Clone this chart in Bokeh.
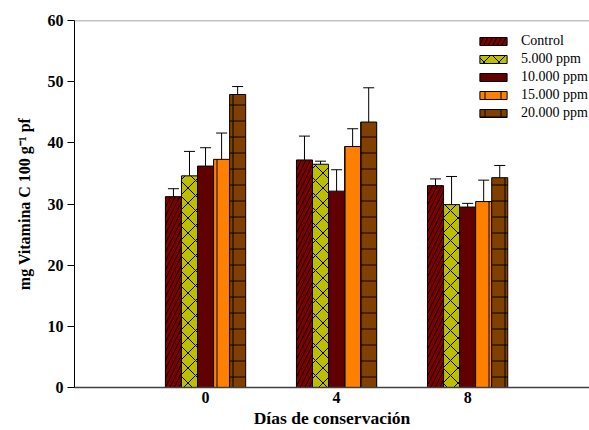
from bokeh.plotting import figure
from bokeh.models import (ColumnDataSource, Whisker, TeeHead, FixedTicker, Legend,
                          LegendItem, Span, Range1d)
from bokeh.embed import file_html
from bokeh.resources import INLINE

days = [0, 4, 8]
series = ["Control", "5.000 ppm", "10.000 ppm", "15.000 ppm", "20.000 ppm"]
means = {
    "Control":    [31.2, 37.2, 33.0],
    "5.000 ppm":  [34.6, 36.5, 29.9],
    "10.000 ppm": [36.2, 32.1, 29.5],
    "15.000 ppm": [37.3, 39.4, 30.4],
    "20.000 ppm": [47.9, 43.4, 34.3],
}
errors = {
    "Control":    [1.3, 3.9, 1.1],
    "5.000 ppm":  [4.0, 0.5, 4.6],
    "10.000 ppm": [3.0, 3.5, 0.6],
    "15.000 ppm": [4.3, 2.9, 3.5],
    "20.000 ppm": [1.3, 5.6, 2.0],
}
colors = ["#800000", "#BEBE00", "#600000", "#FF8000", "#804000"]
hatches = ["/", "x", " ", "|", "+"]
hscales = [9, 15, 8, 16, 16]

FONT = "'Liberation Serif'"

p = figure(width=589, height=430, output_backend="svg", toolbar_location=None,
           x_range=Range1d(-4, 11.72), y_range=Range1d(0, 60),
           min_border_left=74, min_border_right=0, min_border_top=20,
           min_border_bottom=43)
p.outline_line_color = None
p.grid.visible = False
p.background_fill_color = "white"

bw = 0.49
items = []
for i, s in enumerate(series):
    off = (i - 2) * bw
    xs = [d + off for d in days]
    src = ColumnDataSource(dict(
        x=xs, top=means[s],
        upper=[m + e for m, e in zip(means[s], errors[s])],
        lower=[m - e for m, e in zip(means[s], errors[s])],
    ))
    r = p.vbar(x="x", top="top", width=bw, source=src, fill_color=colors[i],
               line_color="black", line_width=1,
               hatch_pattern=hatches[i], hatch_color="black",
               hatch_scale=hscales[i], hatch_weight=1)
    items.append(LegendItem(label=s, renderers=[r]))
    w = Whisker(source=src, base="x", upper="upper", lower="lower",
                line_color="black", line_width=1,
                upper_head=TeeHead(size=11, line_color="black", line_width=1),
                lower_head=TeeHead(size=11, line_color="black", line_width=1))
    p.add_layout(w)

p.add_layout(Span(location=60, dimension="width", line_color="#888888", line_width=1.5))

# axes
p.yaxis.ticker = FixedTicker(ticks=[0, 10, 20, 30, 40, 50, 60])
p.yaxis.minor_tick_line_color = None
p.yaxis.major_tick_out = 7
p.yaxis.major_tick_in = 0
p.yaxis.axis_line_color = "black"
p.yaxis.major_tick_line_color = "black"
p.yaxis.major_label_text_font = FONT
p.yaxis.major_label_text_font_style = "bold"
p.yaxis.major_label_text_font_size = "16px"
p.yaxis.major_label_text_color = "black"
p.yaxis.major_label_standoff = 4
p.yaxis.axis_label = "mg Vitamina C 100 g\u207b\u00b9 pf"
p.yaxis.axis_label_text_font = FONT
p.yaxis.axis_label_text_font_style = "bold"
p.yaxis.axis_label_text_font_size = "16px"
p.yaxis.axis_label_text_color = "black"
p.yaxis.axis_label_standoff = 12

p.xaxis.ticker = FixedTicker(ticks=days)
p.xaxis.minor_tick_line_color = None
p.xaxis.major_tick_out = 0
p.xaxis.major_tick_in = 0
p.xaxis.axis_line_color = "#404040"
p.xaxis.axis_line_width = 1.5
p.xaxis.major_label_text_font = FONT
p.xaxis.major_label_text_font_style = "bold"
p.xaxis.major_label_text_font_size = "16px"
p.xaxis.major_label_text_color = "black"
p.xaxis.major_label_standoff = 4
p.xaxis.axis_label = "D\u00edas de conservaci\u00f3n"
p.xaxis.axis_label_text_font = FONT
p.xaxis.axis_label_text_font_style = "bold"
p.xaxis.axis_label_text_font_size = "17.5px"
p.xaxis.axis_label_text_color = "black"
p.xaxis.axis_label_standoff = 2

legend = Legend(items=items, location=(402, 266))
legend.border_line_color = None
legend.background_fill_alpha = 0
legend.padding = 0
legend.margin = 0
legend.glyph_width = 34
legend.glyph_height = 10
legend.label_height = 10
legend.spacing = 2
legend.label_standoff = 11
legend.label_text_font = FONT
legend.label_text_font_size = "14px"
legend.label_text_color = "black"
p.add_layout(legend)

open("out.html", "w").write(file_html(p, INLINE))
